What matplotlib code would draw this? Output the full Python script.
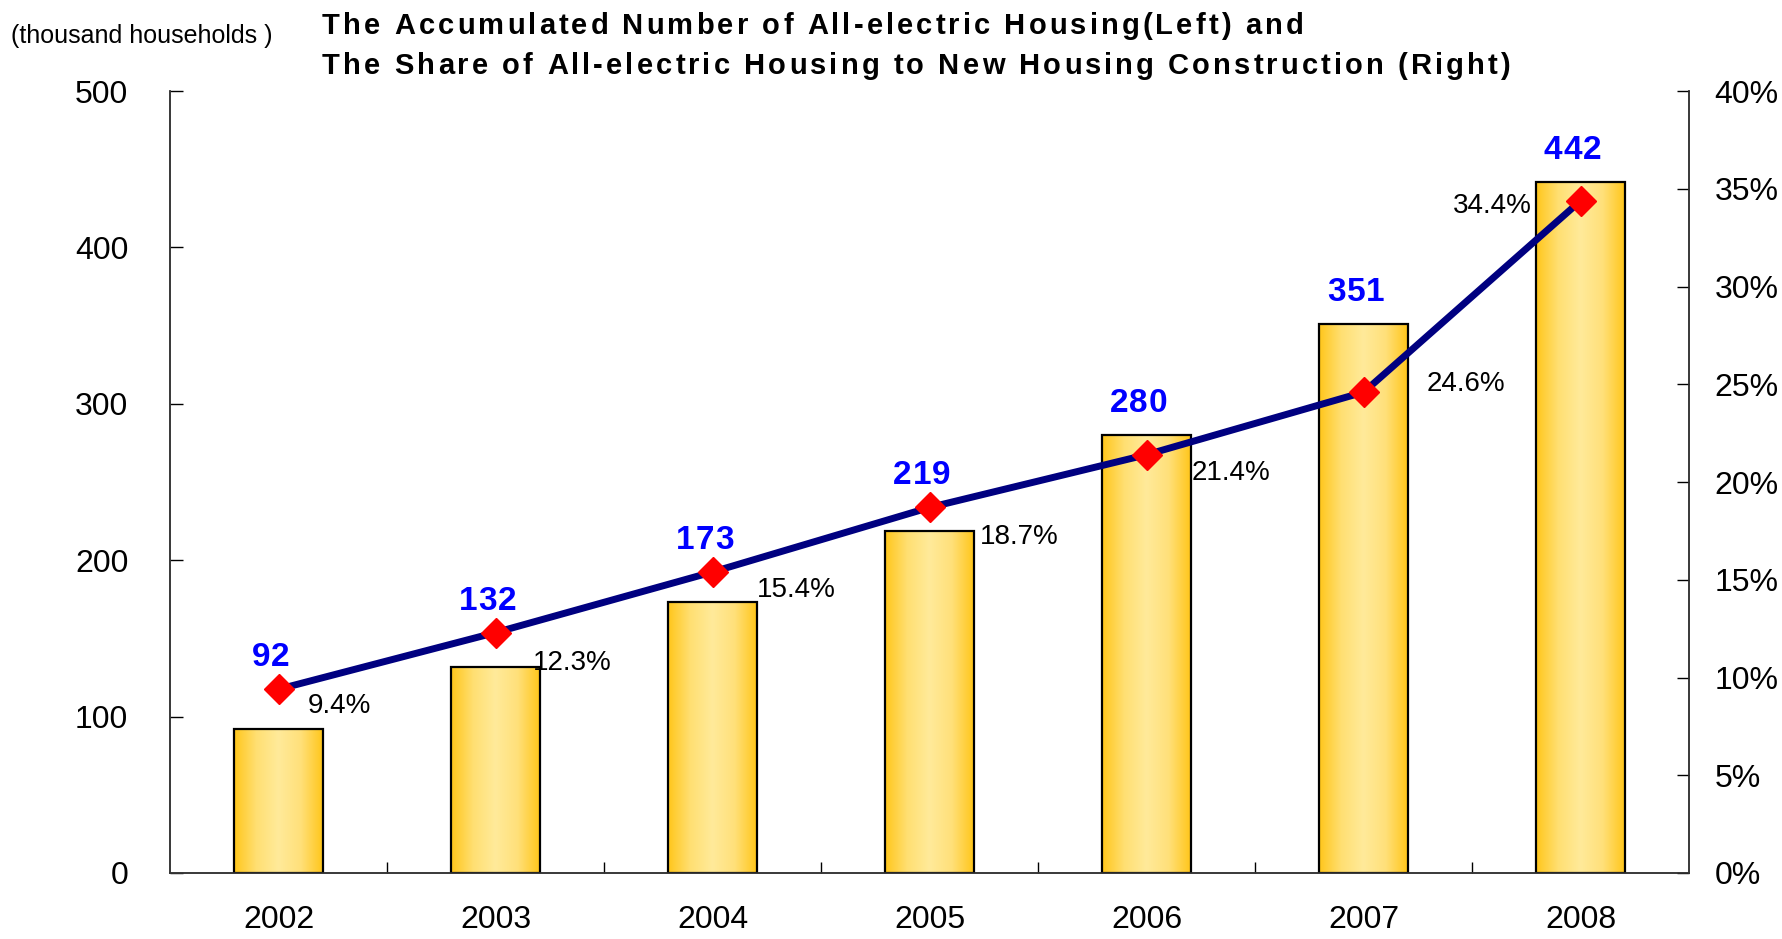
import numpy as np
import matplotlib
matplotlib.use("Agg")
import matplotlib.pyplot as plt
from matplotlib.colors import LinearSegmentedColormap
from matplotlib.font_manager import FontProperties, findfont, get_font
from matplotlib.transforms import offset_copy, IdentityTransform

plt.rcParams['font.family'] = ['Liberation Sans', 'DejaVu Sans']
DPI = 100

# -----------------------------
# Data
# -----------------------------
years = ['2002', '2003', '2004', '2005', '2006', '2007', '2008']
households = [92, 132, 173, 219, 280, 351, 442]        # thousand households (left)
share = [9.4, 12.3, 15.4, 18.7, 21.4, 24.6, 34.4]       # % of new housing (right)
share_labels = ['9.4%', '12.3%', '15.4%', '18.7%', '21.4%', '24.6%', '34.4%']
left_ticks = [0, 100, 200, 300, 400, 500]
right_ticks = [0, 5, 10, 15, 20, 25, 30, 35, 40]

# % label offsets (points) and alignment
pct_offsets = [(21, -12, 'left'), (27, -22, 'left'), (32, -13, 'left'),
               (36, -21, 'left'), (32, -13, 'left'), (45, 6, 'left'),
               (-35, -4, 'right')]


def spaced_text(fig, s, spacing, size, x_px, y_px, weight='normal', ha='left', **kw):
    """draw s char by char (pixel coords) with extra letter spacing"""
    font = get_font(findfont(FontProperties(family='Liberation Sans', weight=weight)))
    font.set_size(size, DPI)
    adv = [font.load_char(ord(c)).linearHoriAdvance / 65536 for c in s]
    total = sum(adv) + spacing * (len(s) - 1)
    pos = x_px - (total / 2 if ha == 'center' else 0)
    for c, a in zip(s, adv):
        fig.text(0, 0, c, fontsize=size, fontweight=weight, ha='left',
                 transform=offset_copy(IdentityTransform(), fig, x=pos, y=y_px,
                                       units='dots'), **kw)
        pos += a + spacing


# -----------------------------
# Figure
# -----------------------------
fig = plt.figure(figsize=(17.82, 9.39), dpi=DPI)
ax = fig.add_axes([0.0954, 0.0703, 0.8526, 0.8327])
ax2 = ax.twinx()

x = np.arange(len(years))
bar_w = 0.41

gold = LinearSegmentedColormap.from_list(
    'gold', ['#FFC61A', '#FFDF72', '#FFEA9A', '#FFE07A', '#FFC61A'])
grad = np.linspace(0, 1, 256).reshape(1, -1)

bars = ax.bar(x, households, width=bar_w, facecolor='none',
              edgecolor='black', linewidth=1.6, zorder=3)
for b in bars:
    x0, y0 = b.get_x(), b.get_y()
    im = ax.imshow(grad, cmap=gold, aspect='auto', zorder=2,
                   extent=[x0, x0 + b.get_width(), y0, y0 + b.get_height()])
    im.set_clip_path(b)

ax.set_xlim(-0.5, 6.5)
ax.set_ylim(0, 500)
ax.set_yticks(left_ticks)
ax.set_xticks(x)
ax.set_xticklabels(years)
ax.set_xticks(x[:-1] + 0.5, minor=True)
ax.tick_params(axis='x', which='major', length=0, pad=23, labelsize=23)
ax.tick_params(axis='x', which='minor', direction='in', length=8, width=1)
ax.tick_params(axis='y', direction='in', length=9, width=1, pad=30, labelsize=23)

ax2.plot(x, share, color='#000080', linewidth=5, zorder=4)
ax2.plot(x, share, linestyle='none', marker='D', markersize=15,
         color='#FF0000', zorder=5)
ax2.set_ylim(0, 40)
ax2.set_yticks(right_ticks)
ax2.set_yticklabels([f'{t}%' for t in right_ticks])
ax2.tick_params(axis='y', direction='in', length=9, width=1, pad=18, labelsize=23)

for a in (ax, ax2):
    a.spines['top'].set_visible(False)
    for s in ('left', 'right', 'bottom'):
        a.spines[s].set_color('#333333')
        a.spines[s].set_linewidth(1.1)

# blue value labels above bar top or marker, whichever is higher
for i, v in enumerate(households):
    top = max(v, share[i] * 500 / 40)
    px, py = ax.transData.transform((x[i], top))
    spaced_text(fig, str(v), 1, 24, px - 8, py + 16, weight='bold', ha='center',
                color='#0000FF', va='bottom', zorder=6)

for i, p in enumerate(share):
    dx, dy, ha = pct_offsets[i]
    ax2.annotate(share_labels[i], (x[i], p), xytext=(dx, dy),
                 textcoords='offset points', ha=ha, va='center',
                 fontsize=20, color='black', zorder=6)

fig.text(0.006, 0.962, '(thousand households )', fontsize=18, va='center', ha='left')
spaced_text(fig, 'The Accumulated Number of All-electric Housing(Left) and',
            3.1, 21, 322, 939 * 0.972, weight='bold', va='center')
spaced_text(fig, 'The Share of All-electric Housing to New Housing Construction (Right)',
            3.1, 21, 322, 939 * 0.930, weight='bold', va='center')

fig.savefig('out.png', dpi=DPI)
